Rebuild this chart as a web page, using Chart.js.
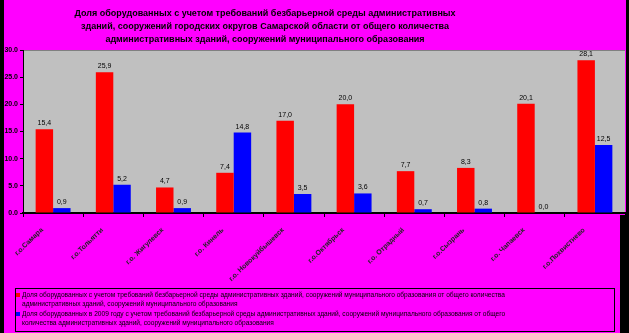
<!DOCTYPE html>
<html>
<head>
<meta charset="utf-8">
<script src="https://cdn.jsdelivr.net/npm/chart.js@4/dist/chart.umd.min.js"></script>
<style>
  html, body { margin: 0; padding: 0; background: #000; }
  #wrap { width: 629px; height: 333px; position: relative; }
  canvas { display: block; }
</style>
</head>
<body>
<div id="wrap"><canvas id="c" width="629" height="333"></canvas></div>
<script>
// Городские округа Самарской области
const categories = [
  "г.о.Самара", "г.о.Тольятти", "г.о. Жигулевск", "г.о. Кинель",
  "г.о. Новокуйбышевск", "г.о.Октябрьск", "г.о. Отрадный",
  "г.о.Сызрань", "г.о. Чапаевск", "г.о.Похвистнево"
];

// Доля оборудованных зданий, % (всего)
const shareTotal = [15.4, 25.9, 4.7, 7.4, 17.0, 20.0, 7.7, 8.3, 20.1, 28.1];
// Доля оборудованных в 2009 году, %
const share2009 = [0.9, 5.2, 0.9, 14.8, 3.5, 3.6, 0.7, 0.8, 0.0, 12.5];

// Шкала значений
const yTickMin = 0;
const yTickMax = 30;
const yTickStep = 5;

const titleLines = [
  "Доля оборудованных с учетом требований безбарьерной среды административных",
  "зданий, сооружений городских округов Самарской области от общего количества",
  "административных зданий, сооружений муниципального образования"
];

const legendLinesTotal = [
  "Доля оборудованных с учетом требований безбарьерной среды административных зданий, сооружений муниципального образования от общего количества",
  "административных зданий, сооружений муниципального образования"
];
const legendLines2009 = [
  "Доля оборудованных в 2009 году с учетом требований безбарьерной среды административных зданий, сооружений муниципального образования от общего",
  "количества административных зданий, сооружений муниципального образования"
];

const FONT = "'Liberation Sans', Arial, sans-serif";
const fmt = v => v.toFixed(1).replace('.', ',');

// Фон страницы и области построения
const backdrop = {
  id: 'backdrop',
  beforeDraw(chart) {
    const { ctx, width, height, chartArea: a } = chart;
    ctx.save();
    ctx.fillStyle = '#000000';
    ctx.fillRect(0, 0, width, height);
    ctx.fillStyle = '#FF00FF';
    ctx.fillRect(4, 0, 622, 215);
    ctx.fillRect(4, 215, 616, height - 215);
    ctx.fillStyle = '#C0C0C0';
    ctx.fillRect(a.left, a.top, a.right - a.left, a.bottom - a.top);
    ctx.strokeStyle = '#808080';
    ctx.lineWidth = 1;
    ctx.beginPath();
    ctx.moveTo(a.left, a.top + 0.5);
    ctx.lineTo(a.right, a.top + 0.5);
    ctx.stroke();
    ctx.restore();
  }
};

// Заголовок
const heading = {
  id: 'heading',
  afterDraw(chart) {
    const { ctx } = chart;
    ctx.save();
    ctx.fillStyle = '#000000';
    ctx.font = "bold 9px " + FONT;
    ctx.textAlign = 'center';
    ctx.textBaseline = 'middle';
    titleLines.forEach((t, i) => ctx.fillText(t, 265, 14 + i * 13));
    ctx.restore();
  }
};

// Подписи значений над столбцами
const valueLabels = {
  id: 'valueLabels',
  afterDatasetsDraw(chart) {
    const { ctx } = chart;
    ctx.save();
    ctx.fillStyle = '#000000';
    ctx.font = "7px " + FONT;
    ctx.textAlign = 'center';
    ctx.textBaseline = 'alphabetic';
    chart.data.datasets.forEach((ds, di) => {
      chart.getDatasetMeta(di).data.forEach((bar, i) => {
        ctx.fillText(fmt(ds.data[i]), bar.x, bar.y - 4);
      });
    });
    ctx.restore();
  }
};

// Легенда в рамке под диаграммой
const boxLegend = {
  id: 'boxLegend',
  afterDraw(chart) {
    const { ctx } = chart;
    ctx.save();
    ctx.strokeStyle = '#000000';
    ctx.lineWidth = 1;
    ctx.strokeRect(15.5, 288.5, 599, 43);
    ctx.font = "6.6px " + FONT;
    ctx.textAlign = 'left';
    ctx.textBaseline = 'middle';
    let y = 295;
    chart.data.datasets.forEach(ds => {
      ctx.fillStyle = ds.backgroundColor;
      ctx.fillRect(16, y - 2, 4, 4);
      ctx.fillStyle = '#000000';
      ds.legendLines.forEach(line => {
        ctx.fillText(line, 22, y);
        y += 9.5;
      });
    });
    ctx.restore();
  }
};

new Chart(document.getElementById('c'), {
  type: 'bar',
  data: {
    labels: categories,
    datasets: [
      {
        label: legendLinesTotal.join(' '),
        legendLines: legendLinesTotal,
        data: shareTotal,
        backgroundColor: '#FF0000',
        borderWidth: 0
      },
      {
        label: legendLines2009.join(' '),
        legendLines: legendLines2009,
        data: share2009,
        backgroundColor: '#0000FF',
        borderWidth: 0
      }
    ]
  },
  options: {
    responsive: false,
    animation: false,
    devicePixelRatio: 1,
    layout: { padding: { top: 50, left: 0, right: 4, bottom: 40 } },
    categoryPercentage: 0.58,
    barPercentage: 1.0,
    plugins: {
      legend: { display: false },
      title: { display: false },
      tooltip: { enabled: false }
    },
    scales: {
      x: {
        offset: true,
        grid: {
          offset: true,
          drawOnChartArea: false,
          drawTicks: true,
          tickLength: 4,
          color: '#000000'
        },
        border: { display: true, color: '#000000', width: 2 },
        ticks: {
          autoSkip: false,
          maxRotation: 44,
          minRotation: 44,
          labelOffset: -11,
          padding: 9,
          color: '#222222',
          font: { family: FONT, size: 7, weight: 'bold' }
        },
        afterFit(scale) { scale.height = 80; }
      },
      y: {
        min: yTickMin,
        max: yTickMax,
        grid: {
          drawOnChartArea: false,
          drawTicks: true,
          tickLength: 3,
          color: '#000000'
        },
        border: { display: true, color: '#000000', width: 1 },
        ticks: {
          stepSize: yTickStep,
          padding: 2,
          color: '#000000',
          font: { family: FONT, size: 7, weight: 'bold' },
          callback: v => v.toFixed(1)
        },
        afterFit(scale) { scale.width = 23; }
      }
    }
  },
  plugins: [backdrop, heading, valueLabels, boxLegend]
});
</script>
</body>
</html>
